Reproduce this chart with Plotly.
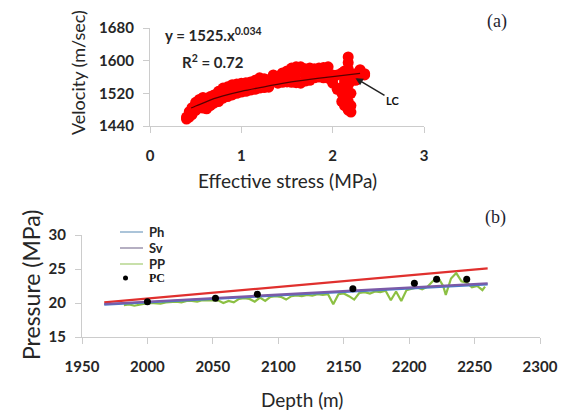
import plotly.graph_objects as go

# ---------------- (a) Velocity vs effective stress ----------------
stress = [0.40, 0.40, 0.43, 0.43, 0.46, 0.46, 0.50, 0.50, 0.50, 0.54, 0.54,
          0.58, 0.58, 0.58, 0.62, 0.62, 0.66, 0.66, 0.70, 0.70, 0.70, 0.75, 0.75,
          0.80, 0.80, 0.80, 0.85, 0.85, 0.90, 0.90, 0.90, 0.95, 0.95,
          1.00, 1.00, 1.00, 1.05, 1.05, 1.10, 1.10, 1.10, 1.15, 1.15,
          1.20, 1.20, 1.20, 1.25, 1.25, 1.30, 1.30, 1.30, 1.35, 1.35,
          1.40, 1.40, 1.40, 1.45, 1.45, 1.50, 1.50, 1.50, 1.55, 1.55,
          1.60, 1.60, 1.60, 1.65, 1.65, 1.70, 1.70, 1.70, 1.75, 1.75,
          1.80, 1.80, 1.80, 1.85, 1.85, 1.90, 1.90, 1.90, 1.95, 1.95,
          2.00, 2.00, 2.00, 2.05, 2.05, 2.10, 2.10, 2.10, 2.10, 2.13, 2.13, 2.13,
          2.17, 2.17, 2.17, 2.17, 2.17, 2.17, 2.17, 2.17,
          2.20, 2.20, 2.20, 2.20, 2.20, 2.25, 2.25, 2.30, 2.30, 2.35, 2.35]
velocity = [1462, 1457, 1475, 1462, 1485, 1468, 1498, 1478, 1488, 1505, 1485,
            1510, 1484, 1495, 1508, 1482, 1512, 1490, 1516, 1496, 1505, 1525, 1500,
            1533, 1508, 1520, 1536, 1512, 1541, 1516, 1528, 1543, 1520,
            1545, 1523, 1535, 1546, 1525, 1548, 1528, 1538, 1552, 1530,
            1558, 1533, 1545, 1556, 1534, 1553, 1535, 1545, 1565, 1550,
            1562, 1545, 1555, 1570, 1547, 1575, 1548, 1560, 1582, 1547,
            1585, 1546, 1565, 1585, 1545, 1580, 1550, 1565, 1582, 1552,
            1580, 1558, 1570, 1582, 1560, 1583, 1558, 1570, 1585, 1557,
            1565, 1545, 1555, 1565, 1530, 1570, 1500, 1535, 1520, 1575, 1490, 1550,
            1609, 1479, 1595, 1580, 1560, 1540, 1520, 1500,
            1568, 1474, 1490, 1520, 1550, 1568, 1552, 1578, 1564, 1565, 1568]

trend_x = [0.45, 0.50, 0.60, 0.70, 0.80, 1.00, 1.25, 1.50, 1.75, 2.00, 2.30]
trend_y = [1484, 1489, 1498, 1507, 1514, 1525, 1536, 1546, 1554, 1561, 1569]

# ---------------- (b) Pressure vs depth ----------------
line_depth = [1967, 2260]
red_line = [20.1, 25.1]
ph_line = [19.75, 22.75]
sv_line = [19.85, 22.9]

pp_depth = [1982, 1986, 1990, 1994, 1998, 2002, 2006, 2010, 2014, 2018, 2022,
            2026, 2030, 2034, 2038, 2042, 2046, 2050, 2054, 2058, 2062, 2066,
            2070, 2074, 2078, 2082, 2086, 2090, 2094, 2098, 2102, 2106, 2110,
            2114, 2118, 2122, 2126, 2130, 2134, 2138, 2142, 2146, 2150, 2154,
            2158, 2162, 2166, 2170, 2174, 2178, 2182, 2186, 2190, 2194, 2198,
            2202, 2206, 2210, 2214, 2218, 2222, 2226, 2228, 2232, 2236, 2240,
            2244, 2248, 2252, 2256, 2258]
pp_value = [19.7, 19.8, 19.6, 19.8, 19.9, 20.0, 20.0, 19.9, 20.1, 20.2, 20.2,
            20.1, 20.3, 20.3, 20.2, 20.4, 20.4, 20.5, 20.4, 20.0, 20.3, 20.1,
            20.6, 20.7, 20.6, 20.2, 20.8, 20.3, 20.9, 21.0, 20.9, 20.5, 21.0,
            21.1, 21.0, 21.2, 21.1, 21.3, 21.2, 21.3, 19.8, 21.3, 21.4, 21.0,
            20.5, 21.5, 21.6, 21.4, 21.7, 21.6, 21.8, 20.4, 21.7, 20.3, 21.9,
            22.1, 22.3, 22.0, 22.4, 23.2, 23.8, 22.5, 21.2, 23.6, 24.4, 23.2,
            23.0, 22.3, 22.5, 21.9, 22.4]

pc_depth = [2000, 2052, 2084, 2157, 2204, 2221, 2244]
pc_value = [20.2, 20.7, 21.3, 22.1, 22.9, 23.5, 23.5]

legend_names = ["Ph", "Sv", "PP", "PC"]
legend_colors = ["#8fb0cc", "#9c94ae", "#b6d68e", "black"]

# ---------------- layout helpers (page has an 8px body margin) ----------------
W, H, OFF = 560, 403, 8
def px(x):
    return (x - OFF) / W
def py(y):
    return 1 - (y - OFF) / H

FONT = "Lato"
TICKC = "#262626"
AXC = "#cccccc"

fig = go.Figure()

fig.add_trace(go.Scatter(x=stress, y=velocity, mode="markers",
                         marker=dict(color="#ff0000", size=11, line=dict(width=0)),
                         showlegend=False, xaxis="x", yaxis="y"))
fig.add_trace(go.Scatter(x=trend_x, y=trend_y, mode="lines", line=dict(color="#5a0000", width=1.3, shape="spline"),
                         showlegend=False, xaxis="x", yaxis="y"))

fig.add_trace(go.Scatter(x=line_depth, y=red_line, mode="lines", line=dict(color="#e0302e", width=2.2),
                         showlegend=False, xaxis="x2", yaxis="y2"))
fig.add_trace(go.Scatter(x=pp_depth, y=pp_value, mode="lines", line=dict(color="#8cc043", width=2.2),
                         showlegend=False, xaxis="x2", yaxis="y2"))
fig.add_trace(go.Scatter(x=line_depth, y=ph_line, mode="lines", line=dict(color="#4a7ac8", width=2.2),
                         showlegend=False, xaxis="x2", yaxis="y2"))
fig.add_trace(go.Scatter(x=line_depth, y=sv_line, mode="lines", line=dict(color="#7b5aa8", width=2.2),
                         showlegend=False, xaxis="x2", yaxis="y2"))
fig.add_trace(go.Scatter(x=pc_depth, y=pc_value, mode="markers", marker=dict(color="black", size=7),
                         showlegend=False, xaxis="x2", yaxis="y2"))

axis_common = dict(showline=True, linecolor=AXC, linewidth=1.3, ticks="outside", ticklen=6,
                   tickcolor=AXC, showgrid=False, zeroline=False, automargin=False,
                   tickfont=dict(family=FONT, size=15, color=TICKC, weight="bold"))

annotations = [
    dict(text="<b>y = 1525.x<sup>0.034</sup></b>", x=px(213), y=py(35), font=dict(family=FONT, size=15, color=TICKC)),
    dict(text="<b>R<sup>2</sup> = 0.72</b>", x=px(213), y=py(62), font=dict(family=FONT, size=15, color=TICKC)),
    dict(text="(a)", x=px(497), y=py(22), font=dict(family="Liberation Serif", size=18, color="#1e1e30")),
    dict(text="(b)", x=px(495), y=py(217), font=dict(family="Liberation Serif", size=18, color="#1e1e30")),
    dict(text="Effective stress (MPa)", x=px(287), y=py(180), font=dict(family=FONT, size=19, color=TICKC)),
    dict(text="Velocity (m/sec)", x=px(78), y=py(73), textangle=-90, font=dict(family=FONT, size=18, color=TICKC)),
    dict(text="Depth (m)", x=px(302), y=py(399), font=dict(family=FONT, size=19, color=TICKC)),
    dict(text="Pressure (MPa)", x=px(31), y=py(285), textangle=-90, font=dict(family=FONT, size=23, color=TICKC)),
]
for a in annotations:
    a.update(xref="paper", yref="paper", showarrow=False, xanchor="center", yanchor="middle")

annotations.append(dict(text="<b>LC</b>", x=2.25, y=1557, xref="x", yref="y", ax=37, ay=22,
                        showarrow=True, arrowhead=2, arrowsize=1, arrowwidth=1.5, arrowcolor="#222",
                        font=dict(family=FONT, size=11, color="#111")))

# manual key for panel (b)
key_y = [232, 248, 264, 278]
shapes = []
for i, (nm, col) in enumerate(zip(legend_names, legend_colors)):
    if nm == "PC":
        shapes.append(dict(type="circle", xref="paper", yref="paper", x0=px(123), x1=px(128),
                           y0=py(key_y[i] - 2.5), y1=py(key_y[i] + 2.5), fillcolor="black", line=dict(width=0)))
        fnt = dict(family="Liberation Serif", size=12, color="#111", weight="bold")
    else:
        shapes.append(dict(type="line", xref="paper", yref="paper", x0=px(120), x1=px(143),
                           y0=py(key_y[i]), y1=py(key_y[i]), line=dict(color=col, width=1.5)))
        fnt = dict(family=FONT, size=13, color=TICKC, weight="bold")
    annotations.append(dict(text=nm, x=px(147), y=py(key_y[i]), xref="paper", yref="paper",
                            showarrow=False, xanchor="left", yanchor="middle", font=fnt))

fig.update_layout(
    width=W, height=H, margin=dict(l=0, r=0, t=0, b=0, autoexpand=False),
    paper_bgcolor="white", plot_bgcolor="white", showlegend=False,
    font=dict(family=FONT, color=TICKC),
    xaxis=dict(domain=[px(150), px(424)], range=[0, 3], dtick=1, anchor="y", ticklabelstandoff=10, **axis_common),
    yaxis=dict(domain=[py(126), py(28)], range=[1440, 1680], dtick=80, anchor="x", ticklabelstandoff=6, **axis_common),
    xaxis2=dict(domain=[px(82), px(540)], range=[1950, 2300], dtick=50, anchor="y2", ticklabelstandoff=10, **axis_common),
    yaxis2=dict(domain=[py(337), py(235)], range=[15, 30], dtick=5, anchor="x2", ticklabelstandoff=6, **axis_common),
    annotations=annotations,
    shapes=shapes,
)

fig.write_html("out.html")
